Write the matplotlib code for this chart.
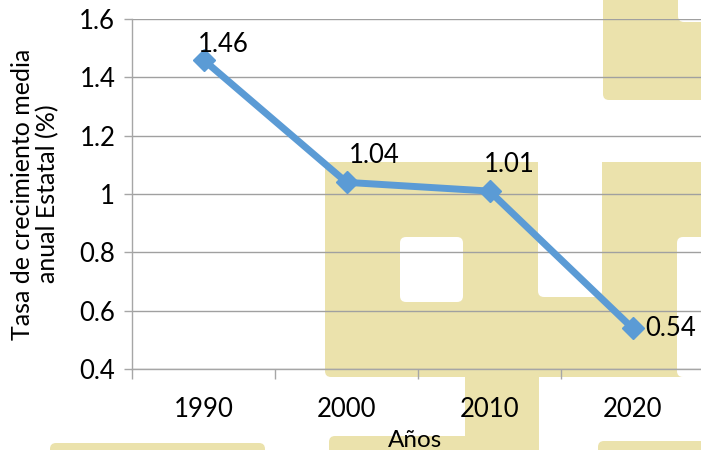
import matplotlib
matplotlib.use("Agg")
import matplotlib.pyplot as plt
from matplotlib.patches import FancyBboxPatch
import numpy as np

# Data
years = ["1990", "2000", "2010", "2020"]
rates = [1.46, 1.04, 1.01, 0.54]
yticks = [0.4, 0.6, 0.8, 1.0, 1.2, 1.4, 1.6]
ytick_labels = ["0.4", "0.6", "0.8", "1", "1.2", "1.4", "1.6"]

plt.rcParams['font.family'] = ['Lato', 'DejaVu Sans']

W, H = 701, 450
fig = plt.figure(figsize=(W / 100, H / 100), dpi=100)
fig.patch.set_facecolor('white')

beige = '#EBE2AC'

def box(x0, y0, x1, y1, color, z):
    # pixel box (top-left origin), drawn in display pixels
    p = FancyBboxPatch((x0, H - y1), x1 - x0, y1 - y0,
                       boxstyle="round,pad=0,rounding_size=6",
                       transform=None, facecolor=color,
                       edgecolor='none', zorder=z)
    fig.add_artist(p)

# watermark behind the chart
box(603, -10, 720, 100, beige, -3)
box(678, -10, 720, 22, 'white', -2)
box(325, 162, 720, 377, beige, -3)
box(400, 237, 463, 302, 'white', -2)
box(538, 150, 602, 297, 'white', -2)
box(677, 237, 720, 377, 'white', -2)
box(465, 370, 539, 460, beige, -3)
box(50, 443, 265, 460, beige, -3)
box(329, 436, 470, 460, beige, -3)
box(598, 441, 720, 460, beige, -3)

ax = fig.add_axes([132 / W, 1 - 369 / H, 572 / W, 350 / H])
ax.patch.set_alpha(0)

x = np.arange(len(years))
ax.plot(x, rates, color='#5B9BD5', lw=5, marker='D', markersize=11,
        zorder=5, clip_on=False)

offsets = [(14, 2), (20, 10), (14, 10), (9, 0)]
aligns = [('center', 'bottom'), ('center', 'bottom'), ('center', 'bottom'), ('left', 'center')]
for xi, v, off, al in zip(x, rates, offsets, aligns):
    ax.annotate(f"{v:.2f}", (xi, v), xytext=off, textcoords='offset points',
                ha=al[0], va=al[1], fontsize=18.5, color='black', zorder=6)

ax.set_xlim(-0.5, 3.5)
ax.set_ylim(0.4, 1.6)
ax.set_yticks(yticks)
ax.set_yticklabels(ytick_labels, fontsize=18.5)
ax.set_xticks(x)
ax.set_xticklabels(years, fontsize=18.5)
ax.set_xticks(np.arange(-0.5, 3.6, 1.0), minor=True)
ax.tick_params(axis='x', which='major', length=0, pad=20)
ax.tick_params(axis='x', which='minor', length=7, width=1, color='#A6A6A6', direction='out')
ax.tick_params(axis='y', length=6, width=1, color='#A6A6A6', direction='out', pad=6)

ax.grid(axis='y', color='#A0A0A0', lw=1)
ax.set_axisbelow(True)
for s in ['top', 'right']:
    ax.spines[s].set_visible(False)
for s in ['left', 'bottom']:
    ax.spines[s].set_color('#A6A6A6')
    ax.spines[s].set_linewidth(1)

ax.set_ylabel("Tasa de crecimiento media\nanual Estatal (%)", fontsize=18,
              linespacing=1.1)
ax.yaxis.set_label_coords(-73 / 572, 0.5)
ax.set_xlabel("Años", fontsize=17.5)
ax.xaxis.set_label_coords(283 / 572, -61 / 350)

fig.savefig("out.png", dpi=100)
